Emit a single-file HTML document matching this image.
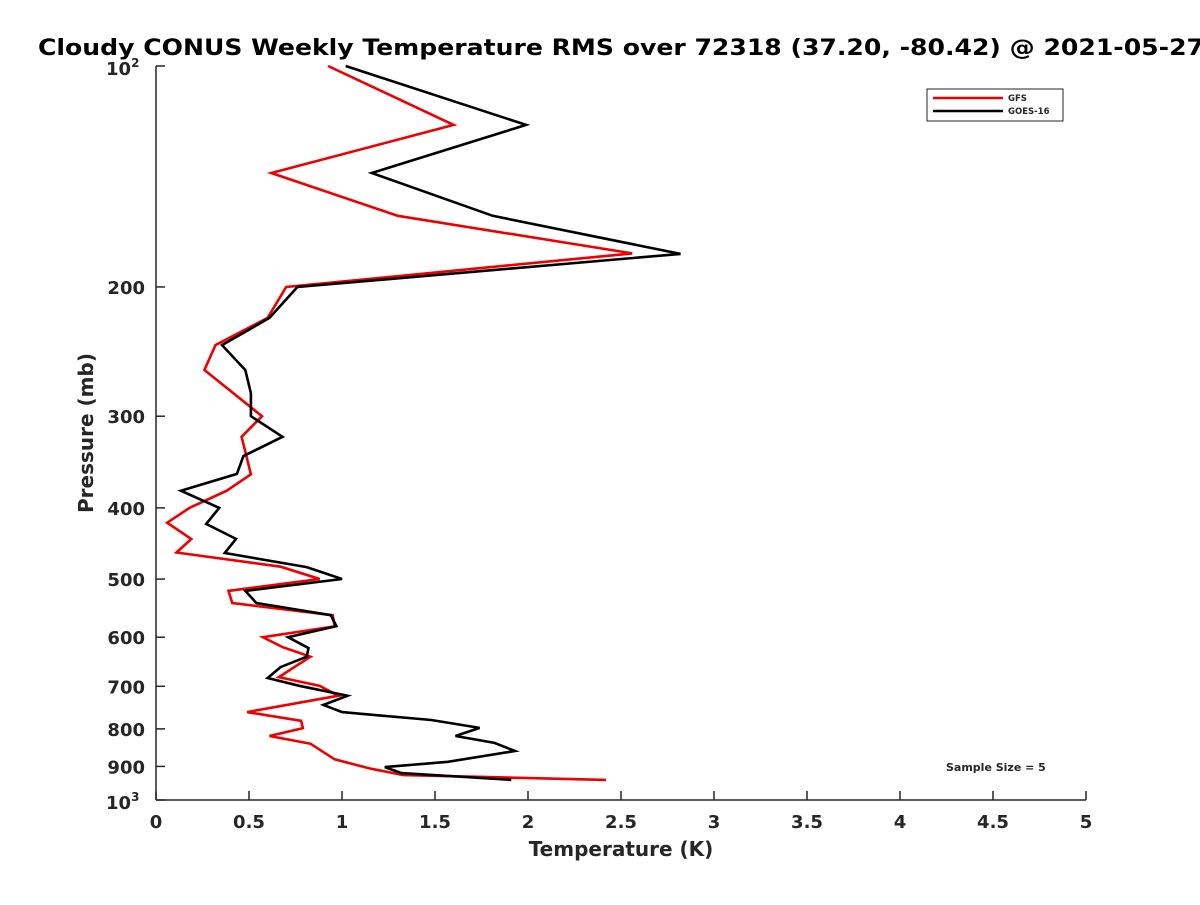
<!DOCTYPE html>
<html><head><meta charset="utf-8"><style>
html,body{margin:0;padding:0;background:#fff;}
svg text{font-family:"DejaVu Sans","Liberation Sans",sans-serif;font-weight:bold;fill:#262626;}
</style></head><body>
<svg id="chart" width="1200" height="900" viewBox="0 0 1200 900">
<rect x="0" y="0" width="1200" height="900" fill="#fff"/>
<text x="38" y="55" font-size="22" textLength="1166" lengthAdjust="spacingAndGlyphs" fill="#000" style="fill:#000">Cloudy CONUS Weekly Temperature RMS over 72318 (37.20, -80.42) @ 2021-05-27</text>
<g id="axes"></g>
<g id="series"></g>
<g>
<rect x="927" y="89" width="136" height="32" fill="#fff" stroke="#262626" stroke-width="1"/>
<line x1="933" y1="98" x2="1003" y2="98" stroke="#e00" stroke-width="2.5"/>
<text x="1008" y="101" font-size="8.5">GFS</text>
<line x1="933" y1="111" x2="1003" y2="111" stroke="#000" stroke-width="2.5"/>
<text x="1008" y="114" font-size="8.5">GOES-16</text>
</g>
<text x="946" y="771" font-size="11">Sample Size = 5</text>
<text x="621" y="856" font-size="20" text-anchor="middle">Temperature (K)</text>
<text transform="translate(93,433) rotate(-90)" font-size="20" text-anchor="middle">Pressure (mb)</text>
</svg>
<script>
const xTicks=[0,0.5,1,1.5,2,2.5,3,3.5,4,4.5,5];
const xTickLabels=["0","0.5","1","1.5","2","2.5","3","3.5","4","4.5","5"];
const yTicks=[200,300,400,500,600,700,800,900];
const gfsP=[100,120.3,139.9,160,180,200,220.4,240,259.5,300,320,360,379,400,419,441,460,481,500,519,539,560,580,600,619,638,680,699,721,759,780,798,818,838,880,906,925,939];
const gfsV=[0.925,1.60,0.62,1.30,2.56,0.70,0.60,0.32,0.26,0.57,0.46,0.51,0.38,0.18,0.06,0.19,0.11,0.67,0.88,0.39,0.41,0.95,0.96,0.575,0.68,0.83,0.66,0.88,0.98,0.49,0.78,0.79,0.61,0.83,0.96,1.15,1.33,2.42];
const goesP=[100,120.3,139.9,160,180.3,200,220.4,240,259.5,279,300,320,340,359.5,379,400,420.6,440.8,460.8,481.6,500,519,539,560,579.5,600,621,638,659,682,699,721,742,759,778,797.6,818,836,857.5,887,902,919,939];
const goesV=[1.02,1.99,1.16,1.81,2.82,0.76,0.61,0.355,0.48,0.51,0.51,0.68,0.47,0.435,0.134,0.34,0.27,0.43,0.37,0.81,1.0,0.48,0.54,0.94,0.97,0.71,0.82,0.81,0.67,0.60,0.77,1.03,0.90,1.0,1.48,1.74,1.61,1.82,1.93,1.57,1.23,1.32,1.91];

const X0=156,X1=1086,Y0=66,Y1=800;
const xs=v=>X0+(v-0)/(5-0)*(X1-X0);
const ys=p=>Y0+(Math.log10(p)-2)*(Y1-Y0);
const NS="http://www.w3.org/2000/svg";
const axes=document.getElementById('axes'),ser=document.getElementById('series');
function mk(tag,attrs,parent){const e=document.createElementNS(NS,tag);for(const k in attrs)e.setAttribute(k,attrs[k]);parent.appendChild(e);return e;}
let a=mk('line',{x1:X0,y1:Y1,x2:X1,y2:Y1,stroke:'#262626','stroke-width':1.5},axes);


a=mk('line',{x1:X0,y1:Y0,x2:X0,y2:Y1,stroke:'#262626','stroke-width':1.5},axes);


xTicks.forEach((t,i)=>{
  const x=xs(t);
  const l=mk('line',{x1:x,y1:Y1,x2:x,y2:Y1-9,stroke:'#262626','stroke-width':1.5},axes);
  
  
  const tx=mk('text',{x:x,y:Y1+28,'font-size':18,'text-anchor':'middle'},axes);
  tx.textContent=xTickLabels[i];
  
  
});
[100,1000].concat(yTicks).forEach(p=>{
  const y=ys(p);
  const l=mk('line',{x1:X0,y1:y,x2:X0+9,y2:y,stroke:'#262626','stroke-width':1.5},axes);
  
  
});
yTicks.forEach(p=>{
  const tx=mk('text',{x:X0-11,y:ys(p)+7,'font-size':18,'text-anchor':'end'},axes);
  tx.textContent=String(p);
  
  
});
[[100,'2'],[1000,'3']].forEach(([p,e])=>{
  const tx=mk('text',{x:X0-50,y:ys(p)+9,'font-size':18},axes);
  tx.textContent='10';
  
  
  const sp=mk('tspan',{'font-size':12,dy:-8},tx);sp.textContent=e;
});
function line(P,V,color,name){
  const pts=P.map((p,i)=>xs(V[i]).toFixed(1)+','+ys(p).toFixed(1)).join(' ');
  const pl=mk('polyline',{points:pts,fill:'none',stroke:color,'stroke-width':2.6,'stroke-linejoin':'miter'},ser);
  
  
}
line(gfsP,gfsV,'#e00','gfs-line');
line(goesP,goesV,'#000','goes16-line');
</script>
</body></html>
